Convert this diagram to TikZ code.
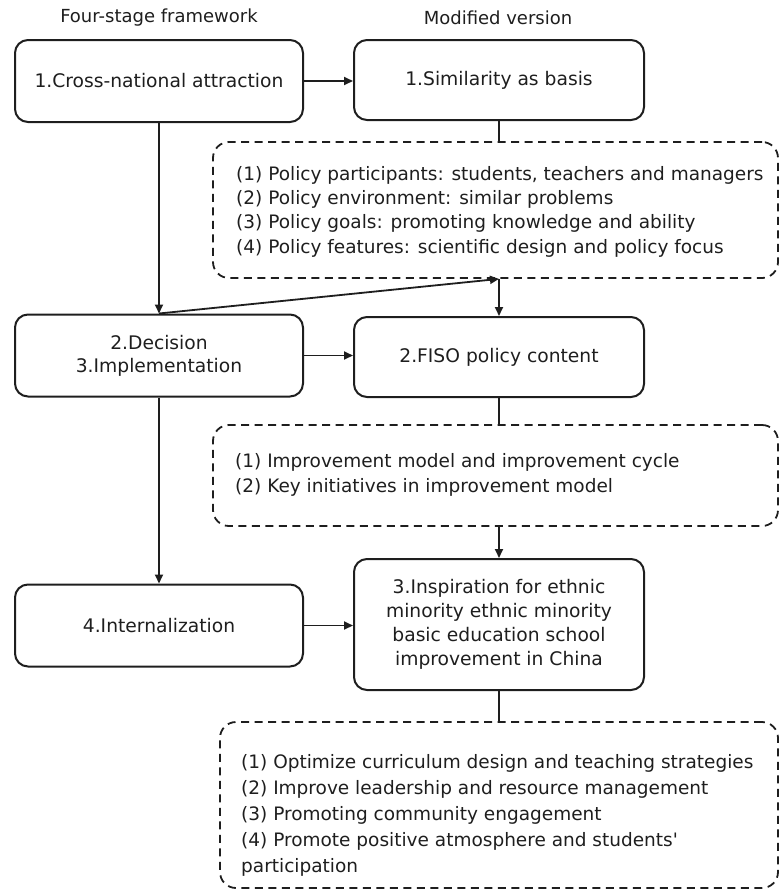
\documentclass[tikz,border=0pt]{standalone}
\usepackage{fontspec}
\setmainfont{DejaVu Sans}[Ligatures=TeXOff]
\usetikzlibrary{arrows.meta}
\definecolor{ink}{HTML}{1E1E1E}
\begin{document}
\begin{tikzpicture}[x=1pt,y=-1pt,
  box/.style={draw=ink, line width=2pt, rounded corners=13pt, inner sep=0pt,
    font=\fontsize{18.7}{23}\selectfont, text=ink, align=center},
  lbox/.style={box, minimum width=288pt, minimum height=82pt},
  rbox/.style={box, minimum width=290pt, minimum height=80pt},
  dbox/.style={draw=ink, line width=1.8pt, dash pattern=on 8pt off 5.5pt,
    rounded corners=16pt, inner sep=0pt},
  dtext/.style={font=\fontsize{18.5}{24.4}\selectfont, text=ink, align=left,
    inner sep=0pt, anchor=west},
  arr/.style={draw=ink, line width=1.8pt, -{Triangle[length=9pt,width=8pt]}},
  ln/.style={draw=ink, line width=1.8pt},
  ttl/.style={font=\fontsize{18}{20}\selectfont, text=ink}]
\useasboundingbox (0,0) rectangle (780,892);

% titles
\node[ttl] (t1) at (159,18) {Four-stage framework};
\node[ttl] (t2) at (498,18) {Modified version};

% left column
\node[lbox] (b1) at (159,81) {1.Cross-national attraction};
\node[lbox] (dec) at (159,355.5) {2.Decision\\3.Implementation};
\node[lbox] (int) at (159,625.5) {4.Internalization};

% right column
\node[rbox] (sim) at (499,80) {1.Similarity as basis};
\node[rbox] (fiso) at (499,357) {2.FISO policy content};
\node[box, minimum width=290pt, minimum height=131pt, font=\fontsize{18.7}{24}\selectfont]
  (insp) at (499,624.5)
  {3.Inspiration for ethnic\\minority ethnic minority\\basic education school\\improvement in China};

% dashed boxes
\node[dbox, minimum width=565pt, minimum height=136pt] (d1) at (495.5,210) {};
\node[dtext] (d1t) at (236,211.5) {(1) Policy participants: students, teachers and managers\\
(2) Policy environment: similar problems\\
(3) Policy goals: promoting knowledge and ability\\
(4) Policy features: scientific design and policy focus};

\node[dbox, minimum width=565pt, minimum height=101pt] (d2) at (495.5,475.5) {};
\node[dtext] (d2t) at (235,475) {(1) Improvement model and improvement cycle\\
(2) Key initiatives in improvement model};

\node[dbox, minimum width=558pt, minimum height=166pt] (d3) at (499,805) {};
\node[dtext, font=\fontsize{18.5}{26}\selectfont] (d3t) at (241,815) {(1) Optimize curriculum design and teaching strategies\\
(2) Improve leadership and resource management\\
(3) Promoting community engagement\\
(4) Promote positive atmosphere and students'\\
participation};

% connectors
\coordinate (d1b) at (d1.south -| fiso.north);
\draw[arr] (b1.east) -- (b1.east -| sim.west);
\draw[ln] (sim.south) -- (sim.south |- d1.north);
\draw[arr] (b1.south) -- (dec.north);
\draw[arr] (dec.north) -- (d1b);
\draw[arr] (d1b) -- (fiso.north);
\draw[arr] (dec.east) -- (dec.east -| fiso.west);
\draw[ln] (fiso.south) -- (fiso.south |- d2.north);
\draw[arr] (d2.south -| insp.north) -- (insp.north);
\draw[arr] (dec.south) -- (int.north);
\draw[arr] (int.east) -- (int.east -| insp.west);
\draw[ln] (insp.south) -- (insp.south |- d3.north);
\end{tikzpicture}
\end{document}
